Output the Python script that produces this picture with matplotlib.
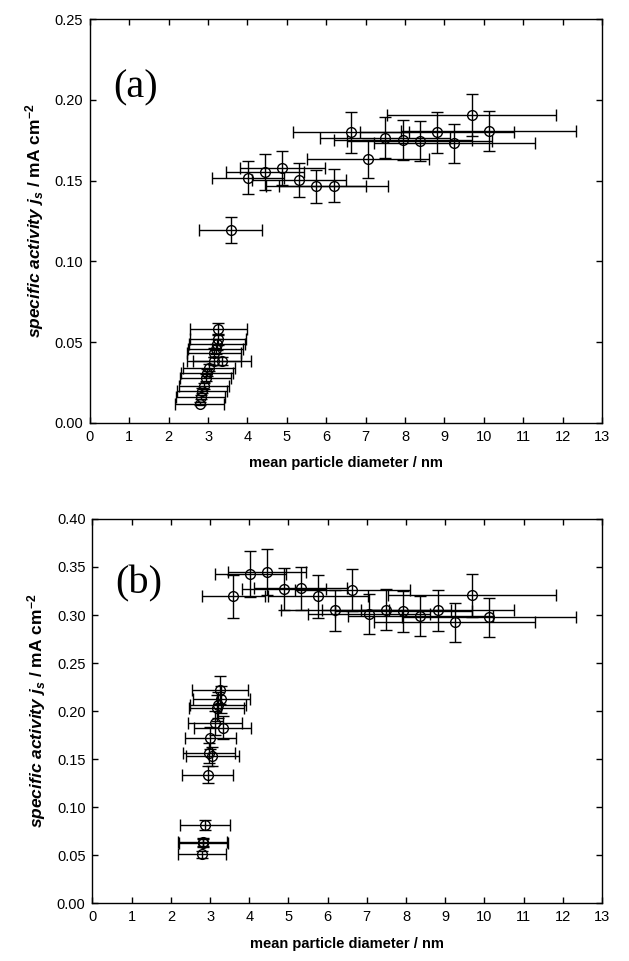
import numpy as np
import matplotlib.pyplot as plt

plt.rcParams['font.family'] = ['Liberation Sans', 'DejaVu Sans']
plt.rcParams['mathtext.fontset'] = 'custom'
plt.rcParams['mathtext.rm'] = 'Liberation Sans'
plt.rcParams['mathtext.it'] = 'Liberation Sans:italic'
plt.rcParams['mathtext.bf'] = 'Liberation Sans:bold'
plt.rcParams['mathtext.bfit'] = 'Liberation Sans:italic:bold'

# (a) 数据：平均粒径 / nm，比活性 / mA cm-2
d_a = [3.26, 3.25, 3.23, 3.19, 3.15, 3.15, 3.36, 3.02, 2.98, 2.94, 2.89, 2.85, 2.81, 2.79,
       3.58, 4.02, 4.45, 4.88, 5.31, 5.75, 6.19, 6.63, 7.06, 7.50, 7.94, 8.37, 8.81, 9.25, 9.69, 10.12]
d_err_a = [0.72, 0.72, 0.71, 0.70, 0.69, 0.69, 0.74, 0.66, 0.66, 0.65, 0.64, 0.63, 0.62, 0.62,
           0.80, 0.91, 0.99, 1.08, 1.19, 1.27, 1.38, 1.47, 1.56, 1.65, 1.75, 1.84, 1.95, 2.05, 2.14, 2.23]
j_a = [0.0579, 0.0517, 0.0486, 0.0455, 0.0435, 0.0383, 0.0383, 0.0342, 0.0311, 0.0280, 0.0229, 0.0198, 0.0161, 0.0119,
       0.1195, 0.1519, 0.1553, 0.1580, 0.1505, 0.1464, 0.1470, 0.1799, 0.1632, 0.1766, 0.1752, 0.1746, 0.1799, 0.1731, 0.1907, 0.1808]
j_err_a = [0.0037, 0.0035, 0.0033, 0.0031, 0.0030, 0.0027, 0.0027, 0.0024, 0.0022, 0.0020, 0.0017, 0.0015, 0.0012, 0.0010,
           0.0080, 0.0104, 0.0110, 0.0106, 0.0105, 0.0100, 0.0100, 0.0125, 0.0118, 0.0126, 0.0123, 0.0124, 0.0125, 0.0120, 0.0130, 0.0125]

# (b) 数据
d_b = [3.25, 3.29, 3.21, 3.17, 3.12, 3.32, 3.01, 2.98, 3.06, 2.94, 2.87, 2.81, 2.83, 2.79,
       3.59, 4.03, 4.46, 4.89, 5.31, 5.75, 6.19, 6.63, 7.06, 7.50, 7.93, 8.37, 8.81, 9.24, 9.68, 10.12]
d_err_b = [0.72, 0.72, 0.71, 0.70, 0.69, 0.73, 0.66, 0.66, 0.67, 0.65, 0.63, 0.62, 0.62, 0.61,
           0.80, 0.91, 0.99, 1.08, 1.19, 1.27, 1.38, 1.47, 1.56, 1.65, 1.75, 1.84, 1.95, 2.05, 2.14, 2.23]
j_b = [0.2222, 0.2125, 0.2066, 0.2031, 0.1875, 0.1829, 0.1725, 0.1562, 0.1528, 0.1337, 0.0816, 0.0640, 0.0630, 0.0510,
       0.3194, 0.3430, 0.3444, 0.3270, 0.3278, 0.3194, 0.3048, 0.3257, 0.3014, 0.3056, 0.3038, 0.2993, 0.3048, 0.2923, 0.3204, 0.2975]
j_err_b = [0.0146, 0.0140, 0.0136, 0.0134, 0.0124, 0.0121, 0.0114, 0.0103, 0.0101, 0.0088, 0.0054, 0.0042, 0.0042, 0.0034,
           0.0222, 0.0240, 0.0240, 0.0220, 0.0227, 0.0220, 0.0210, 0.0220, 0.0210, 0.0210, 0.0210, 0.0210, 0.0210, 0.0200, 0.0220, 0.0205]

xticks = np.arange(0, 14, 1)
yticks_a = np.arange(0, 0.2501, 0.05)
yticks_b = np.arange(0, 0.4001, 0.05)

ylabel = r'$\mathbfit{specific\ activity\ j}_{\mathbfit{s}}\mathbf{\ /\ mA\ cm}^{\mathbf{-2}}$'

fig = plt.figure(figsize=(6.29, 9.61), dpi=100)
ax_a = fig.add_axes([0.143, 0.560, 0.814, 0.420])
ax_b = fig.add_axes([0.147, 0.060, 0.810, 0.400])

panels = [(ax_a, d_a, d_err_a, j_a, j_err_a, yticks_a, 0.25, '(a)'),
          (ax_b, d_b, d_err_b, j_b, j_err_b, yticks_b, 0.40, '(b)')]

for ax, d, de, j, je, yt, ymax, tag in panels:
    ax.errorbar(d, j, xerr=de, yerr=je, fmt='o', mfc='none', mec='k', ms=7, mew=1.0,
                ecolor='k', elinewidth=1.0, capsize=4, capthick=1.0)
    ax.set_xlim(0, 13)
    ax.set_ylim(0, ymax)
    ax.set_xticks(xticks)
    ax.set_yticks(yt)
    ax.set_yticklabels([f'{v:.2f}' for v in yt])
    ax.tick_params(direction='in', top=True, right=True, length=4, width=1, labelsize=10.5, pad=5)
    for s in ax.spines.values():
        s.set_linewidth(1.0)
    ax.set_xlabel('mean particle diameter / nm', fontsize=10.5, fontweight='bold', labelpad=9)
    ax.set_ylabel(ylabel, fontsize=12.5, labelpad=6)
    ax.text(0.045, 0.83, tag, transform=ax.transAxes, fontsize=29,
            family='Liberation Serif', va='center', ha='left')

fig.savefig('out.png', dpi=100)
